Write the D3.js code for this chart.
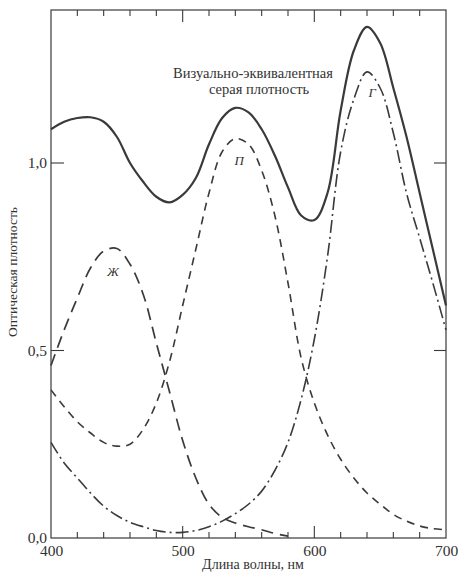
<!DOCTYPE html>
<html>
<head>
<meta charset="utf-8">
<script src="https://cdn.jsdelivr.net/npm/d3@7"></script>
<style>
  body { margin: 0; background: #fff; }
  svg { display: block; }
  text { font-family: "Liberation Serif", "DejaVu Serif", serif; fill: #333; }
</style>
</head>
<body>
<svg id="chart" width="458" height="574"></svg>
<script>
// wavelength samples, nm
var wavelengths = [400, 410, 420, 430, 440, 450, 460, 470, 480, 490, 500,
                   510, 520, 530, 540, 550, 560, 570, 580, 590, 600,
                   610, 620, 630, 640, 650, 660, 670, 680, 690, 700];

// visually equivalent grey density (solid)
var greyDensity = [1.09, 1.11, 1.12, 1.122, 1.11, 1.07, 1.0, 0.95, 0.91, 0.895, 0.915,
                   0.96, 1.05, 1.12, 1.147, 1.135, 1.09, 1.02, 0.935, 0.86, 0.848,
                   0.92, 1.14, 1.30, 1.363, 1.32, 1.20, 1.07, 0.92, 0.77, 0.62];

// yellow dye "Ж" (long dash), ends near 580 nm
var yellowDye = [0.46, 0.555, 0.64, 0.72, 0.765, 0.772, 0.73, 0.65, 0.52, 0.39, 0.26,
                 0.16, 0.09, 0.055, 0.04, 0.03, 0.022, 0.012, 0.005, null, null,
                 null, null, null, null, null, null, null, null, null, null];

// magenta dye "П" (short dash)
var magentaDye = [0.395, 0.35, 0.31, 0.28, 0.255, 0.245, 0.25, 0.29, 0.36, 0.47, 0.62,
                  0.77, 0.92, 1.03, 1.065, 1.05, 0.98, 0.86, 0.68, 0.48, 0.36,
                  0.275, 0.21, 0.16, 0.12, 0.09, 0.063, 0.045, 0.032, 0.025, 0.022];

// cyan dye "Г" (dash-dot)
var cyanDye = [0.255, 0.20, 0.16, 0.12, 0.085, 0.06, 0.042, 0.03, 0.02, 0.015, 0.015,
               0.02, 0.03, 0.045, 0.065, 0.09, 0.125, 0.18, 0.255, 0.37, 0.53,
               0.75, 1.03, 1.17, 1.243, 1.20, 1.08, 0.92, 0.80, 0.68, 0.555];

var xTicks = [400, 500, 600, 700];
var xMinorTicks = [420, 440, 460, 480, 520, 540, 560, 580, 620, 640, 660, 680];
var yTicks = [0, 0.5, 1.0];

var svg = d3.select("#chart");
//plot box (don't call it "top", that's window.top)
var boxL = 51, boxR = 446, boxT = 10, boxB = 538;

var x = d3.scaleLinear().domain([400, 700]).range([boxL, boxR]);
var y = d3.scaleLinear().domain([0, 1.408]).range([boxB, boxT]);

var ink = "#3a3a3a";
var fmt = function(d){ return d3.format(".1f")(d).replace(".", ","); };

//frame
svg.append("rect")
   .attr("x", boxL).attr("y", boxT)
   .attr("width", boxR - boxL).attr("height", boxB - boxT)
   .attr("fill", "none").attr("stroke", ink).attr("stroke-width", 1.2);

//bottom axis: labels only, tick marks drawn below
var gb = svg.append("g").attr("transform", "translate(0," + boxB + ")")
  .call(d3.axisBottom(x).tickValues(xTicks).tickSize(0).tickPadding(7).tickFormat(d3.format("d")));
gb.select(".domain").remove();
gb.selectAll("text").attr("font-size", 15.5).style("font-family", "Liberation Serif, serif").attr("fill", "#333");

//minor ticks every 20 nm, long ones at 500/600, both inward
function xTickMarks(g, dir) {
  g.selectAll("line.minor").data(xMinorTicks).enter().append("line")
   .attr("x1", function(d){ return x(d); }).attr("x2", function(d){ return x(d); })
   .attr("y1", 0).attr("y2", dir * 6);
  g.selectAll("line.major").data([500, 600]).enter().append("line")
   .attr("x1", function(d){ return x(d); }).attr("x2", function(d){ return x(d); })
   .attr("y1", 0).attr("y2", dir * 12);
  g.selectAll("line").attr("stroke", ink).attr("stroke-width", 1.1);
}
svg.append("g").attr("transform", "translate(0," + boxB + ")").call(xTickMarks, -1);
svg.append("g").attr("transform", "translate(0," + boxT + ")").call(xTickMarks, 1);

//left axis labels
var gl = svg.append("g").attr("transform", "translate(" + boxL + ",0)")
  .call(d3.axisLeft(y).tickValues(yTicks).tickSize(0).tickPadding(4).tickFormat(fmt));
gl.select(".domain").remove();
gl.selectAll("text").attr("font-size", 15.5).style("font-family", "Liberation Serif, serif").attr("fill", "#333");

//y ticks inward on both sides
svg.append("g").selectAll("line").data([0.5, 1.0]).enter().append("line")
   .attr("x1", boxL).attr("x2", boxL + 13)
   .attr("y1", function(d){ return y(d); }).attr("y2", function(d){ return y(d); })
   .attr("stroke", ink).attr("stroke-width", 1.1);
svg.append("g").selectAll("line").data([0.5, 1.0]).enter().append("line")
   .attr("x1", boxR - 12).attr("x2", boxR)
   .attr("y1", function(d){ return y(d); }).attr("y2", function(d){ return y(d); })
   .attr("stroke", ink).attr("stroke-width", 1.1);

//curves
function lineFor(values) {
  return d3.line()
    .defined(function(d, i){ return values[i] !== null; })
    .x(function(d){ return x(d); })
    .y(function(d, i){ return y(values[i]); })
    .curve(d3.curveCatmullRom.alpha(0.5))(wavelengths);
}

var series = [
  { values: greyDensity, dash: null, width: 2.2 },
  { values: yellowDye, dash: "12,7", width: 1.7 },
  { values: magentaDye, dash: "8,6", width: 1.6 },
  { values: cyanDye, dash: "13,4,2,4", width: 1.6 }
];

svg.append("g").selectAll("path").data(series).enter().append("path")
   .attr("d", function(s){ return lineFor(s.values); })
   .attr("fill", "none")
   .attr("stroke", ink)
   .attr("stroke-width", function(s){ return s.width; })
   .attr("stroke-dasharray", function(s){ return s.dash; });

//annotations
svg.append("text").attr("x", 253).attr("y", 78).attr("text-anchor", "middle")
   .attr("font-size", 14.5).text("Визуально-эквивалентная");
svg.append("text").attr("x", 259).attr("y", 94).attr("text-anchor", "middle")
   .attr("font-size", 14.5).text("серая плотность");

var curveLabels = [["Ж", 447, 0.70], ["П", 543, 0.995], ["Г", 644, 1.175]];
svg.selectAll("text.curve-label").data(curveLabels).enter().append("text")
   .attr("class", "curve-label")
   .attr("x", function(d){ return x(d[1]); })
   .attr("y", function(d){ return y(d[2]); })
   .attr("text-anchor", "middle")
   .attr("font-size", 13).attr("font-style", "italic")
   .text(function(d){ return d[0]; });

//axis titles
svg.append("text").attr("x", 253).attr("y", 569).attr("text-anchor", "middle")
   .attr("font-size", 14).text("Длина волны, нм");
svg.append("text").attr("transform", "translate(17,272) rotate(-90)")
   .attr("text-anchor", "middle").attr("font-size", 13.5).text("Оптическая плотность");
</script>
</body>
</html>
